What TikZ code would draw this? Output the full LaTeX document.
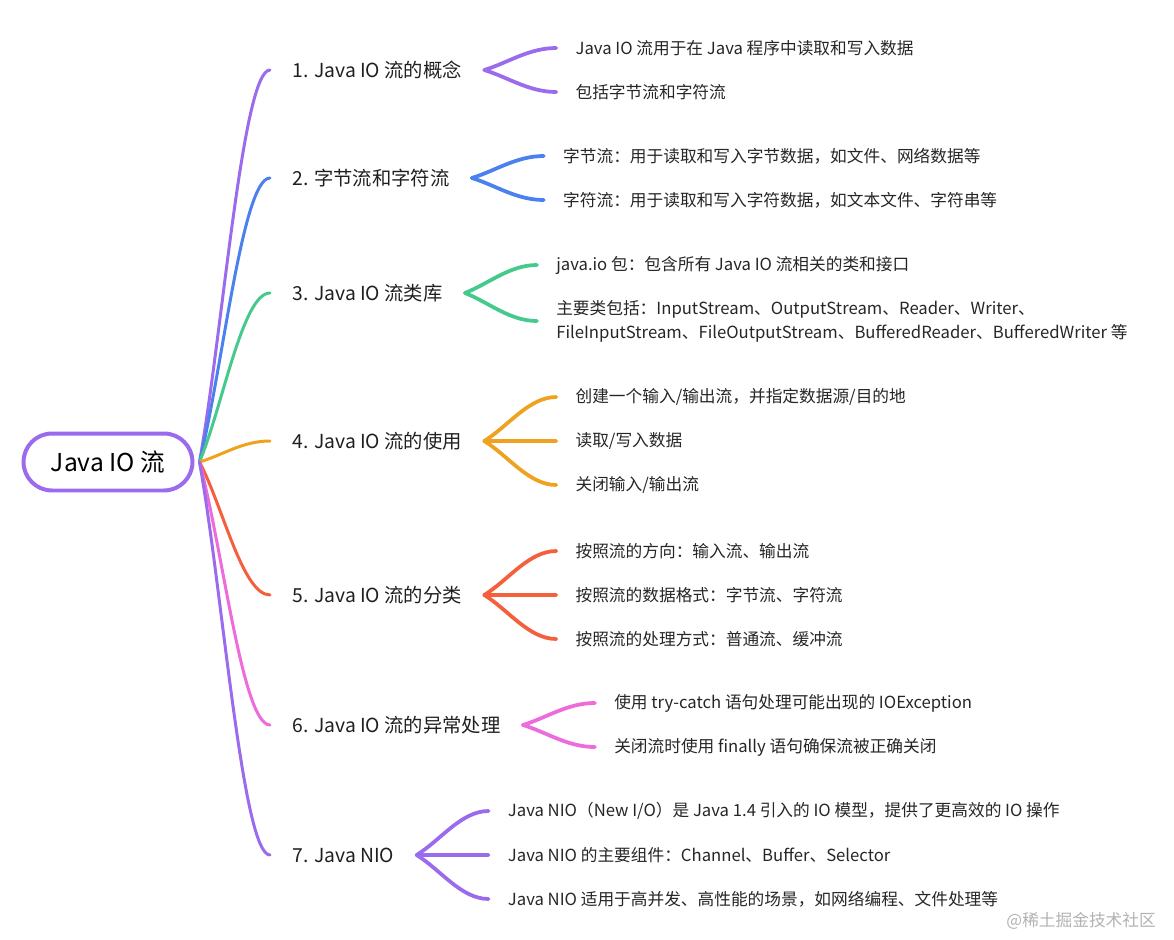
\documentclass[tikz,border=0pt]{standalone}
\usepackage{fontspec}
\setmainfont{Noto Sans CJK SC}
\usepackage{xcolor}
\usetikzlibrary{positioning,calc}

\definecolor{mpurple}{HTML}{9B6BEE}
\definecolor{mblue}{HTML}{4B80EE}
\definecolor{mgreen}{HTML}{45C98C}
\definecolor{morange}{HTML}{EFA21F}
\definecolor{mred}{HTML}{F4603E}
\definecolor{mpink}{HTML}{EE6BDC}

\begin{document}
\begin{tikzpicture}[
  x=0.02cm, y=-0.02cm,
  root/.style={draw=mpurple,line width=0.08cm,rounded corners=0.57cm,minimum width=3.38cm,minimum height=1.14cm,font=\fontsize{14}{17}\selectfont,text=black},
  topic/.style={anchor=west,inner xsep=0.44cm,font=\fontsize{11}{13}\selectfont,text=black!88},
  leaf/.style={anchor=west,inner xsep=0.38cm,align=left,font=\fontsize{9.5}{13.6}\selectfont,text=black!85},
  link/.style={line width=0.06cm,line cap=round,to path={.. controls ($(\tikztostart)!0.33!(\tikztotarget)$) and ([xshift=-0.55cm]\tikztotarget) .. (\tikztotarget)}},
  fork/.style={link,line width=0.075cm}
]
\useasboundingbox (0,0) rectangle (1174,940);

\node[root] (root) at (108,462) {Java IO 流};
\coordinate (hub) at ([xshift=0.1cm]root.east);

\node[topic] (t1) at (270,70) {1. Java IO 流的概念};
\node[topic] (t2) at (270,178) {2. 字节流和字符流};
\node[topic] (t3) at (270,293) {3. Java IO 流类库};
\node[topic] (t4) at (270,441) {4. Java IO 流的使用};
\node[topic] (t5) at (270,595) {5. Java IO 流的分类};
\node[topic] (t6) at (270,725) {6. Java IO 流的异常处理};
\node[topic] (t7) at (270,855) {7. Java NIO};

% leaves
\node[leaf] (l11) at ([xshift=1.44cm,yshift=0.44cm]t1.east) {Java IO 流用于在 Java 程序中读取和写入数据};
\node[leaf] (l12) at ([xshift=1.44cm,yshift=-0.44cm]t1.east) {包括字节流和字符流};

\node[leaf] (l21) at ([xshift=1.44cm,yshift=0.44cm]t2.east) {字节流：用于读取和写入字节数据，如文件、网络数据等};
\node[leaf] (l22) at ([xshift=1.44cm,yshift=-0.44cm]t2.east) {字符流：用于读取和写入字符数据，如文本文件、字符串等};

\node[leaf] (l31) at ([xshift=1.44cm,yshift=0.56cm]t3.east) {java.io 包：包含所有 Java IO 流相关的类和接口};
\node[leaf] (l32) at ([xshift=1.44cm,yshift=-0.56cm]t3.east) {主要类包括：InputStream、OutputStream、Reader、Writer、\\FileInputStream、FileOutputStream、BufferedReader、BufferedWriter 等};

\node[leaf] (l41) at ([xshift=1.44cm,yshift=0.88cm]t4.east) {创建一个输入/输出流，并指定数据源/目的地};
\node[leaf] (l42) at ([xshift=1.44cm]t4.east) {读取/写入数据};
\node[leaf] (l43) at ([xshift=1.44cm,yshift=-0.88cm]t4.east) {关闭输入/输出流};

\node[leaf] (l51) at ([xshift=1.44cm,yshift=0.88cm]t5.east) {按照流的方向：输入流、输出流};
\node[leaf] (l52) at ([xshift=1.44cm]t5.east) {按照流的数据格式：字节流、字符流};
\node[leaf] (l53) at ([xshift=1.44cm,yshift=-0.88cm]t5.east) {按照流的处理方式：普通流、缓冲流};

\node[leaf] (l61) at ([xshift=1.44cm,yshift=0.44cm]t6.east) {使用 try-catch 语句处理可能出现的 IOException};
\node[leaf] (l62) at ([xshift=1.44cm,yshift=-0.44cm]t6.east) {关闭流时使用 finally 语句确保流被正确关闭};

\node[leaf] (l71) at ([xshift=1.44cm,yshift=0.88cm]t7.east) {Java NIO（New I/O）是 Java 1.4 引入的 IO 模型，提供了更高效的 IO 操作};
\node[leaf] (l72) at ([xshift=1.44cm]t7.east) {Java NIO 的主要组件：Channel、Buffer、Selector};
\node[leaf] (l73) at ([xshift=1.44cm,yshift=-0.88cm]t7.east) {Java NIO 适用于高并发、高性能的场景，如网络编程、文件处理等};

% root links
\draw[link,mpurple] (hub) to (t1.west);
\draw[link,mblue] (hub) to (t2.west);
\draw[link,mgreen] (hub) to (t3.west);
\draw[link,morange] (hub) to (t4.west);
\draw[link,mred] (hub) to (t5.west);
\draw[link,mpink] (hub) to (t6.west);
\draw[link,mpurple] (hub) to (t7.west);

% forks
\draw[fork,mpurple] (t1.east) to (l11.west);
\draw[fork,mpurple] (t1.east) to (l12.west);
\draw[fork,mblue] (t2.east) to (l21.west);
\draw[fork,mblue] (t2.east) to (l22.west);
\draw[fork,mgreen] (t3.east) to (l31.west);
\draw[fork,mgreen] (t3.east) to (l32.west);
\draw[fork,morange] (t4.east) to (l41.west);
\draw[fork,morange] (t4.east) to (l42.west);
\draw[fork,morange] (t4.east) to (l43.west);
\draw[fork,mred] (t5.east) to (l51.west);
\draw[fork,mred] (t5.east) to (l52.west);
\draw[fork,mred] (t5.east) to (l53.west);
\draw[fork,mpink] (t6.east) to (l61.west);
\draw[fork,mpink] (t6.east) to (l62.west);
\draw[fork,mpurple] (t7.east) to (l71.west);
\draw[fork,mpurple] (t7.east) to (l72.west);
\draw[fork,mpurple] (t7.east) to (l73.west);

\node[anchor=east,font=\fontsize{9.5}{11}\selectfont,text=black!30] (mark) at (1162,921) {@稀土掘金技术社区};

\end{tikzpicture}
\end{document}
